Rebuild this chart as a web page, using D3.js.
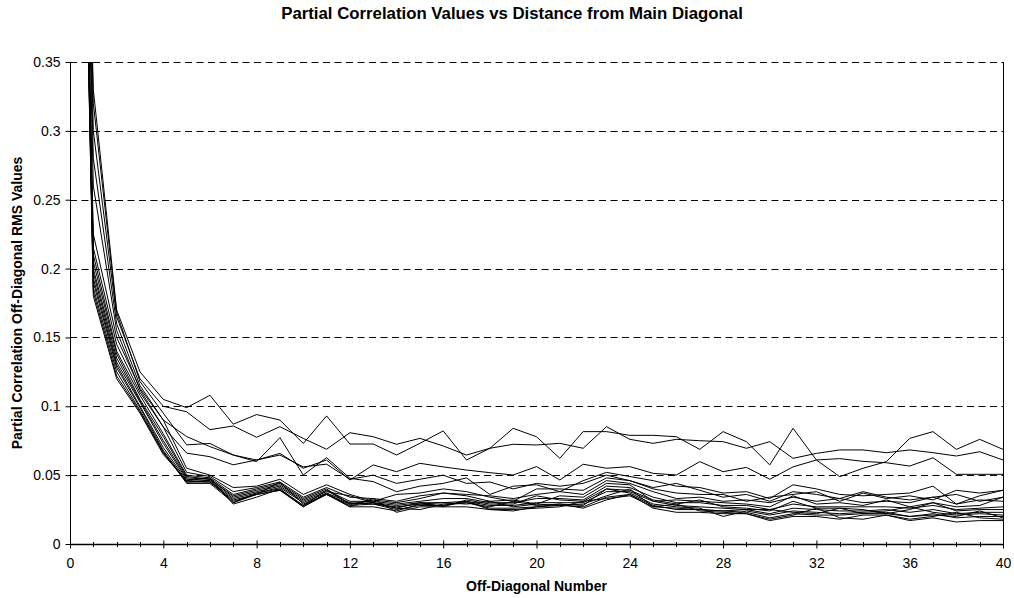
<!DOCTYPE html>
<html>
<head>
<meta charset="utf-8">
<script src="https://cdn.jsdelivr.net/npm/d3@7"></script>
<style>
  html, body { margin: 0; padding: 0; background: #fff; }
  svg { display: block; font-family: Arial, "Liberation Sans", Helvetica, sans-serif; }
</style>
</head>
<body>
<svg id="chart" width="1014" height="598"></svg>
<script>
// Off-diagonal index (0 = main diagonal)
const offDiagonals = [0,1,2,3,4,5,6,7,8,9,10,11,12,13,14,15,16,17,18,19,20,
  21,22,23,24,25,26,27,28,29,30,31,32,33,34,35,36,37,38,39,40];

// RMS partial-correlation value per off-diagonal, one array per run
const rmsRun01 = [1, 0.33, 0.17, 0.125, 0.105, 0.099, 0.108, 0.087, 0.094, 0.09, 0.073, 0.093, 0.0726, 0.0726, 0.0646, 0.0731, 0.0821, 0.061, 0.0695, 0.084, 0.0779, 0.0622, 0.0816, 0.0816, 0.0789, 0.0789, 0.0779, 0.0687, 0.0816, 0.0743, 0.0574, 0.084, 0.061, 0.0489, 0.055, 0.0598, 0.0767, 0.0816, 0.0687, 0.076, 0.0687];
const rmsRun02 = [1, 0.30, 0.165, 0.12, 0.1, 0.096, 0.083, 0.0857, 0.0775, 0.0852, 0.0767, 0.0688, 0.0808, 0.0779, 0.0724, 0.0767, 0.0712, 0.0646, 0.0695, 0.0724, 0.0719, 0.0731, 0.0695, 0.0852, 0.076, 0.0731, 0.076, 0.075, 0.0743, 0.0695, 0.0743, 0.0622, 0.0658, 0.0683, 0.0683, 0.0663, 0.0683, 0.0663, 0.0639, 0.067, 0.061];
const rmsRun03 = [1, 0.28, 0.16, 0.115, 0.09, 0.078, 0.0707, 0.0646, 0.061, 0.0658, 0.055, 0.061, 0.0465, 0.0574, 0.0525, 0.0586, 0.056, 0.0537, 0.0518, 0.0501, 0.0562, 0.0465, 0.0579, 0.055, 0.0562, 0.0513, 0.0501, 0.0598, 0.0525, 0.0556, 0.047, 0.056, 0.061, 0.062, 0.06, 0.059, 0.0566, 0.0626, 0.0506, 0.0506, 0.0506];
const rmsRun04 = [1, 0.32, 0.168, 0.118, 0.095, 0.072, 0.073, 0.0646, 0.0598, 0.0772, 0.0501, 0.0627, 0.0477, 0.0453, 0.038, 0.042, 0.044, 0.048, 0.036, 0.042, 0.043, 0.038, 0.046, 0.052, 0.049, 0.046, 0.042, 0.041, 0.037, 0.038, 0.033, 0.043, 0.04, 0.036, 0.035, 0.036, 0.037, 0.042, 0.029, 0.035, 0.039];
const rmsRun05 = [1, 0.26, 0.155, 0.112, 0.085, 0.066, 0.0634, 0.0575, 0.061, 0.0646, 0.056, 0.058, 0.047, 0.05, 0.044, 0.047, 0.05, 0.044, 0.045, 0.04, 0.044, 0.042, 0.044, 0.05, 0.046, 0.041, 0.044, 0.039, 0.034, 0.036, 0.031, 0.038, 0.036, 0.033, 0.038, 0.034, 0.032, 0.034, 0.036, 0.031, 0.034];
const rmsRun06 = [1, 0.225, 0.15, 0.113, 0.09, 0.055, 0.05, 0.041, 0.042, 0.047, 0.036, 0.043, 0.036, 0.031, 0.036, 0.037, 0.04, 0.038, 0.034, 0.031, 0.04, 0.04, 0.039, 0.048, 0.046, 0.04, 0.037, 0.036, 0.036, 0.031, 0.034, 0.036, 0.038, 0.031, 0.037, 0.033, 0.035, 0.032, 0.039, 0.037, 0.039];
const rmsRun07 = [1, 0.215, 0.145, 0.11, 0.085, 0.052, 0.049, 0.038, 0.041, 0.045, 0.034, 0.041, 0.034, 0.033, 0.031, 0.035, 0.037, 0.036, 0.035, 0.033, 0.036, 0.038, 0.036, 0.046, 0.044, 0.038, 0.033, 0.034, 0.031, 0.032, 0.03, 0.034, 0.031, 0.033, 0.03, 0.031, 0.03, 0.034, 0.029, 0.032, 0.031];
const rmsRun08 = [1, 0.21, 0.14, 0.108, 0.08, 0.05, 0.048, 0.036, 0.04, 0.044, 0.033, 0.04, 0.029, 0.032, 0.03, 0.033, 0.037, 0.035, 0.031, 0.032, 0.029, 0.035, 0.034, 0.044, 0.043, 0.031, 0.032, 0.031, 0.03, 0.029, 0.027, 0.035, 0.029, 0.03, 0.028, 0.032, 0.027, 0.03, 0.027, 0.028, 0.034];
const rmsRun09 = [1, 0.205, 0.138, 0.105, 0.078, 0.049, 0.047, 0.035, 0.039, 0.043, 0.032, 0.039, 0.031, 0.031, 0.029, 0.031, 0.033, 0.033, 0.03, 0.03, 0.033, 0.033, 0.032, 0.042, 0.041, 0.034, 0.03, 0.03, 0.028, 0.028, 0.025, 0.029, 0.027, 0.027, 0.027, 0.027, 0.026, 0.028, 0.025, 0.026, 0.027];
const rmsRun10 = [1, 0.2, 0.135, 0.104, 0.075, 0.048, 0.047, 0.034, 0.038, 0.042, 0.031, 0.038, 0.035, 0.03, 0.028, 0.03, 0.027, 0.032, 0.029, 0.029, 0.035, 0.032, 0.031, 0.04, 0.039, 0.032, 0.029, 0.032, 0.027, 0.026, 0.024, 0.031, 0.026, 0.026, 0.025, 0.022, 0.025, 0.03, 0.024, 0.025, 0.025];
const rmsRun11 = [1, 0.197, 0.132, 0.103, 0.073, 0.047, 0.046, 0.033, 0.037, 0.041, 0.03, 0.037, 0.03, 0.029, 0.027, 0.029, 0.03, 0.031, 0.028, 0.028, 0.03, 0.03, 0.03, 0.038, 0.038, 0.031, 0.028, 0.027, 0.026, 0.025, 0.022, 0.026, 0.025, 0.024, 0.024, 0.025, 0.023, 0.025, 0.022, 0.023, 0.023];
const rmsRun12 = [1, 0.193, 0.13, 0.1, 0.07, 0.046, 0.045, 0.032, 0.036, 0.045, 0.029, 0.036, 0.029, 0.03, 0.026, 0.025, 0.029, 0.03, 0.027, 0.031, 0.028, 0.029, 0.028, 0.04, 0.037, 0.029, 0.027, 0.026, 0.02, 0.024, 0.021, 0.024, 0.023, 0.022, 0.023, 0.024, 0.027, 0.023, 0.021, 0.022, 0.021];
const rmsRun13 = [1, 0.19, 0.128, 0.099, 0.068, 0.045, 0.045, 0.031, 0.036, 0.039, 0.028, 0.036, 0.028, 0.029, 0.025, 0.028, 0.028, 0.03, 0.026, 0.026, 0.027, 0.028, 0.027, 0.034, 0.036, 0.028, 0.025, 0.025, 0.024, 0.023, 0.019, 0.022, 0.021, 0.021, 0.022, 0.022, 0.02, 0.022, 0.019, 0.02, 0.02];
const rmsRun14 = [1, 0.186, 0.125, 0.097, 0.067, 0.044, 0.044, 0.03, 0.036, 0.039, 0.027, 0.036, 0.027, 0.033, 0.023, 0.027, 0.027, 0.027, 0.025, 0.025, 0.026, 0.027, 0.031, 0.033, 0.035, 0.027, 0.029, 0.024, 0.023, 0.022, 0.018, 0.021, 0.026, 0.019, 0.018, 0.021, 0.018, 0.02, 0.023, 0.019, 0.018];
const rmsRun15 = [1, 0.183, 0.122, 0.096, 0.066, 0.045, 0.046, 0.03, 0.037, 0.04, 0.027, 0.037, 0.027, 0.027, 0.024, 0.029, 0.028, 0.031, 0.025, 0.024, 0.027, 0.029, 0.026, 0.032, 0.036, 0.026, 0.023, 0.023, 0.022, 0.022, 0.017, 0.02, 0.02, 0.018, 0.021, 0.021, 0.017, 0.019, 0.016, 0.017, 0.017];
const rmsRun16 = [1, 0.18, 0.12, 0.095, 0.065, 0.046, 0.048, 0.029, 0.034, 0.04, 0.028, 0.039, 0.029, 0.03, 0.026, 0.03, 0.03, 0.029, 0.031, 0.027, 0.029, 0.028, 0.029, 0.035, 0.04, 0.027, 0.026, 0.025, 0.024, 0.025, 0.025, 0.023, 0.022, 0.026, 0.022, 0.023, 0.02, 0.021, 0.02, 0.024, 0.019];

const runs = [rmsRun01, rmsRun02, rmsRun03, rmsRun04, rmsRun05, rmsRun06, rmsRun07, rmsRun08,
  rmsRun09, rmsRun10, rmsRun11, rmsRun12, rmsRun13, rmsRun14, rmsRun15, rmsRun16];

// Axis ticks
const xMajorTicks = [0, 4, 8, 12, 16, 20, 24, 28, 32, 36, 40];
const xMinorTicks = offDiagonals;
const yTicks = [0, 0.05, 0.1, 0.15, 0.2, 0.25, 0.3, 0.35];
const yTickLabels = ["0", "0.05", "0.1", "0.15", "0.2", "0.25", "0.3", "0.35"];

const chartTitle = "Partial Correlation Values vs Distance from Main Diagonal";
const xTitle = "Off-Diagonal Number";
const yTitle = "Partial Correlation Off-Diagonal RMS Values";

const svg = d3.select("#chart");
const plot = { left: 70, right: 1003, top: 62, bottom: 544 };

const x = d3.scaleLinear().domain([0, 40]).range([plot.left, plot.right]);
const y = d3.scaleLinear().domain([0, 0.35]).range([plot.bottom, plot.top]);

// Dashed horizontal gridlines
svg.append("g")
  .selectAll("line")
  .data(yTicks.filter(d => d > 0))
  .join("line")
  .attr("x1", plot.left).attr("x2", plot.right)
  .attr("y1", d => Math.round(y(d)) + 0.5).attr("y2", d => Math.round(y(d)) + 0.5)
  .attr("stroke", "#000")
  .attr("stroke-width", 1)
  .attr("stroke-dasharray", "7,4.5");

// Right border of the plot area
svg.append("line")
  .attr("x1", plot.right + 0.5).attr("x2", plot.right + 0.5)
  .attr("y1", plot.top).attr("y2", plot.bottom)
  .attr("stroke", "#000").attr("stroke-width", 1);

// Clip series to the plot area
svg.append("defs").append("clipPath").attr("id", "plotClip")
  .append("rect")
  .attr("x", plot.left).attr("y", plot.top)
  .attr("width", plot.right - plot.left).attr("height", plot.bottom - plot.top);

const line = d3.line()
  .x((d, i) => x(offDiagonals[i]))
  .y(d => y(d));

svg.append("g")
  .attr("clip-path", "url(#plotClip)")
  .selectAll("path")
  .data(runs)
  .join("path")
  .attr("d", line)
  .attr("fill", "none")
  .attr("stroke", "#000")
  .attr("stroke-width", 1)
  .attr("stroke-linejoin", "miter");

// Y axis
const yAxis = d3.axisLeft(y)
  .tickValues(yTicks)
  .tickFormat((d, i) => yTickLabels[i])
  .tickSize(5)
  .tickPadding(5);
const gy = svg.append("g")
  .attr("transform", `translate(${plot.left + 0.5},0)`)
  .call(yAxis);
gy.select(".domain").attr("d", `M0,${plot.top}V${plot.bottom}`).attr("stroke", "#000");
gy.selectAll(".tick line").attr("stroke", "#000");
gy.selectAll(".tick text").attr("font-size", 14).attr("fill", "#000")
  .attr("font-family", "Arial, 'Liberation Sans', sans-serif");

// X axis: minor ticks each off-diagonal, major ticks every 4
const gx = svg.append("g").attr("transform", `translate(0,${plot.bottom + 0.5})`);
gx.append("line")
  .attr("x1", plot.left).attr("x2", plot.right + 1)
  .attr("stroke", "#000").attr("stroke-width", 1.5);
gx.selectAll("line.minor")
  .data(xMinorTicks.filter(d => !xMajorTicks.includes(d)))
  .join("line").attr("class", "minor")
  .attr("x1", d => Math.round(x(d)) + 0.5).attr("x2", d => Math.round(x(d)) + 0.5)
  .attr("y1", -2.5).attr("y2", 2.5)
  .attr("stroke", "#000");
const xAxis = d3.axisBottom(x)
  .tickValues(xMajorTicks)
  .tickFormat(d3.format("d"))
  .tickSizeInner(4)
  .tickSizeOuter(0)
  .tickPadding(10);
gx.call(xAxis);
gx.select(".domain").remove();
gx.selectAll(".tick line").attr("y1", -4).attr("y2", 4).attr("stroke", "#000");
gx.selectAll(".tick text").attr("font-size", 14).attr("fill", "#000")
  .attr("font-family", "Arial, 'Liberation Sans', sans-serif");

// Titles
svg.append("text")
  .attr("x", 512).attr("y", 19)
  .attr("text-anchor", "middle")
  .attr("font-size", 16.8).attr("font-weight", "bold")
  .text(chartTitle);

svg.append("text")
  .attr("x", (plot.left + plot.right) / 2).attr("y", 591)
  .attr("text-anchor", "middle")
  .attr("font-size", 14).attr("font-weight", "bold")
  .text(xTitle);

svg.append("text")
  .attr("transform", `translate(22,${(plot.top + plot.bottom) / 2}) rotate(-90)`)
  .attr("text-anchor", "middle")
  .attr("font-size", 14).attr("font-weight", "bold")
  .text(yTitle);
</script>
</body>
</html>
